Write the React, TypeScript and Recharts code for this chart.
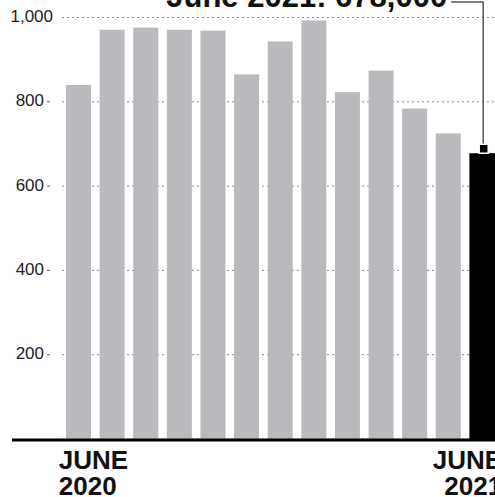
import { BarChart, Bar, XAxis, YAxis, CartesianGrid, ReferenceLine, ReferenceDot } from "recharts"

const months = [
  "Jun 2020", "Jul 2020", "Aug 2020", "Sep 2020", "Oct 2020", "Nov 2020", "Dec 2020",
  "Jan 2021", "Feb 2021", "Mar 2021", "Apr 2021", "May 2021", "Jun 2021",
]
const claims = [840, 971, 976, 971, 969, 865, 943, 993, 823, 874, 784, 725, 678]
const yTicks = [200, 400, 600, 800, 1000]
const tickLabels: Record<string, string[]> = {
  "Jun 2020": ["JUNE", "2020"],
  "Jun 2021": ["JUNE", "2021"],
}
const highlightMonth = "Jun 2021"
const highlightTitle = "June 2021: 678,000"

const data = months.map((month, i) => ({ month, claims: claims[i] }))

const FONT = "'Liberation Sans', Arial, Helvetica, sans-serif"

function YTick({ x, y, payload }: any) {
  const top = payload.value === 1000
  return (
    <g>
      <text
        x={top ? x - 1 : x - 10}
        y={y}
        dy={-1}
        textAnchor="end"
        dominantBaseline="central"
        fontSize={17}
        fontFamily={FONT}
        fill="#222"
      >
        {payload.value.toLocaleString("en-US")}
      </text>
      {!top && <line x1={x - 7} x2={x - 4} y1={y} y2={y} stroke="#777" strokeWidth={1.2} />}
    </g>
  )
}

function XTick({ x, y, payload, index }: any) {
  const lines = tickLabels[payload.value]
  if (!lines) return <g />
  const first = index === 0
  const tx = first ? x - 20 : x + 20
  return (
    <g>
      <text x={tx} y={y + 22} textAnchor={first ? "start" : "end"} fontSize={26} fontWeight={700} fontFamily={FONT} fill="#111">
        {lines[0]}
      </text>
      <text x={tx} y={y + 48} textAnchor={first ? "start" : "end"} fontSize={26} fontWeight={700} fontFamily={FONT} fill="#111">
        {lines[1]}
      </text>
    </g>
  )
}

function BarShape(p: any) {
  const last = p.payload?.month === highlightMonth
  return (
    <rect
      x={p.x}
      y={p.y}
      width={p.width + (last ? 2 : 0)}
      height={p.height}
      fill={last ? "#000" : "#bababe"}
    />
  )
}

function Callout({ cx, cy }: any) {
  const my = cy - 4.5
  return (
    <g>
      <line x1={cx + 1} x2={cx + 1} y1={2} y2={my} stroke="#555" strokeWidth={1.5} />
      <line x1={cx - 31} x2={cx + 1.5} y1={2} y2={2} stroke="#555" strokeWidth={1.5} />
      <rect x={cx - 3} y={my - 4.5} width={9} height={9} fill="#000" stroke="#fff" strokeWidth={1.5} />
      <text
        x={cx - 35}
        y={7}
        textAnchor="end"
        fontSize={31}
        fontWeight={700}
        fontFamily={FONT}
        fill="#111"
      >
        {highlightTitle}
      </text>
    </g>
  )
}

function Baseline(p: any) {
  return <line x1={p.x1 - 50} x2={p.x2} y1={p.y1 + 1} y2={p.y2 + 1} stroke="#000" strokeWidth={3} />
}

export default function App() {
  return (
    <div
      style={{
        position: "absolute",
        left: 0,
        top: 0,
        width: 495,
        height: 497,
        overflow: "hidden",
        background: "#fff",
      }}
    >
      <BarChart
        width={520}
        height={497}
        data={data}
        margin={{ top: 17.5, right: 21, left: 0, bottom: 0 }}
        barSize={25}
      >
        <CartesianGrid vertical={false} stroke="#8a8a8a" strokeDasharray="2 3" />
        <XAxis
          dataKey="month"
          interval={0}
          height={58}
          axisLine={false}
          tickLine={false}
          tick={<XTick />}
        />
        <YAxis
          width={62}
          domain={[0, 1000]}
          ticks={yTicks}
          axisLine={false}
          tickLine={false}
          tick={<YTick />}
        />
        <Bar dataKey="claims" isAnimationActive={false} shape={<BarShape />} />
        <ReferenceLine y={0} ifOverflow="visible" shape={<Baseline />} />
        <ReferenceDot
          x={highlightMonth}
          y={claims[claims.length - 1]}
          ifOverflow="visible"
          shape={<Callout />}
        />
      </BarChart>
    </div>
  )
}
